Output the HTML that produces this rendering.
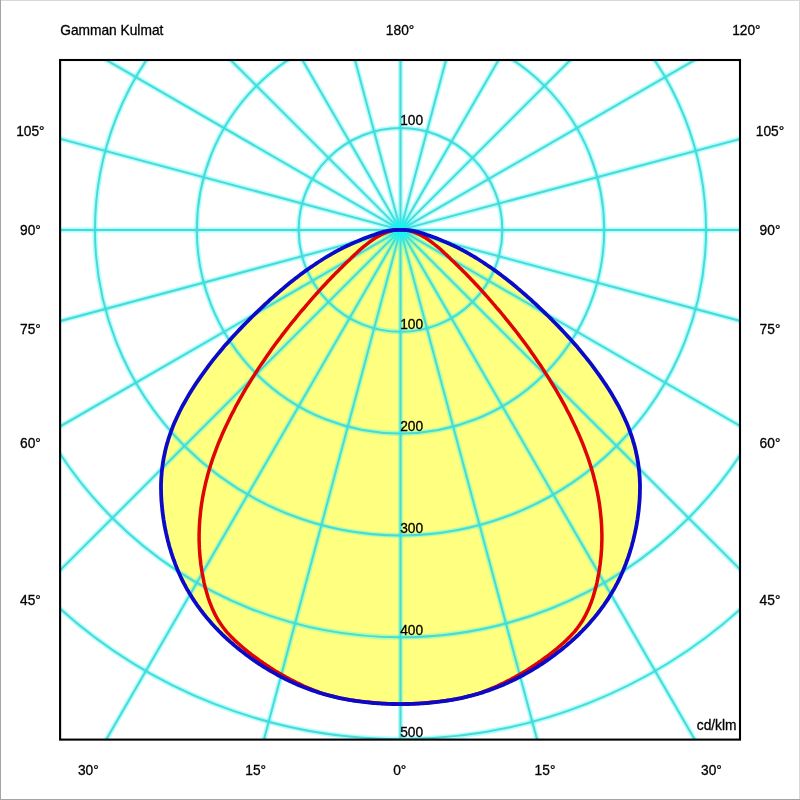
<!DOCTYPE html>
<html><head><meta charset="utf-8"><style>
html,body{margin:0;padding:0;background:#fff;}
body{width:800px;height:800px;position:relative;overflow:hidden;}
svg{position:absolute;left:0;top:0;}
text{font-family:"Liberation Sans",Arial,sans-serif;font-size:13.75px;fill:#000;stroke:#000;stroke-width:0.3px;}
</style></head><body>
<svg width="800" height="800" viewBox="0 0 800 800">
<defs><clipPath id="fr"><rect x="60" y="60" width="680" height="680"/></clipPath></defs>
<g clip-path="url(#fr)">
<path d="M400.5,229.9 401.6,229.9 402.6,229.9 403.6,229.9 404.6,230.0 405.5,230.0 406.3,230.1 407.1,230.1 407.9,230.2 408.7,230.2 409.3,230.3 410.0,230.4 410.6,230.4 411.2,230.5 411.8,230.6 412.4,230.7 412.9,230.8 413.4,230.9 413.9,231.0 414.4,231.1 414.9,231.2 415.4,231.3 415.8,231.4 416.3,231.5 416.8,231.6 417.2,231.7 417.7,231.9 418.1,232.0 418.6,232.1 419.1,232.3 419.5,232.4 420.0,232.6 420.5,232.7 421.1,232.9 421.6,233.1 422.2,233.2 422.8,233.4 423.4,233.6 424.0,233.8 424.7,234.1 425.4,234.3 426.1,234.5 426.8,234.8 427.6,235.1 428.5,235.3 429.3,235.6 430.2,235.9 431.1,236.3 432.1,236.6 433.0,237.0 434.0,237.3 435.1,237.7 436.1,238.1 437.2,238.5 438.3,239.0 439.4,239.4 440.6,239.9 441.7,240.4 442.9,240.9 444.1,241.4 445.4,241.9 446.6,242.5 447.9,243.1 449.3,243.6 450.6,244.3 451.9,244.9 453.3,245.5 454.7,246.2 456.1,246.9 457.5,247.6 458.9,248.3 460.4,249.1 461.8,249.8 463.3,250.6 464.8,251.4 466.3,252.2 467.8,253.1 469.3,253.9 470.8,254.8 472.3,255.7 473.9,256.6 475.4,257.5 477.0,258.5 478.6,259.5 480.1,260.5 481.7,261.5 483.3,262.5 484.9,263.6 486.5,264.7 488.1,265.8 489.8,266.9 491.4,268.0 493.1,269.2 494.8,270.4 496.5,271.6 498.2,272.9 499.9,274.1 501.6,275.4 503.3,276.8 505.1,278.1 506.9,279.5 508.6,280.9 510.5,282.3 512.3,283.8 514.1,285.3 516.0,286.8 517.8,288.4 519.7,290.0 521.6,291.6 523.5,293.3 525.5,295.0 527.4,296.7 529.4,298.4 531.4,300.2 533.4,302.1 535.5,303.9 537.5,305.8 539.6,307.8 541.7,309.8 543.8,311.8 545.9,313.9 548.1,316.0 550.3,318.1 552.4,320.3 554.6,322.5 556.9,324.8 559.1,327.1 561.3,329.4 563.5,331.8 565.8,334.2 568.0,336.6 570.2,339.1 572.4,341.6 574.7,344.1 576.9,346.6 579.1,349.2 581.2,351.8 583.4,354.4 585.6,357.1 587.7,359.7 589.8,362.4 591.9,365.1 593.9,367.9 595.9,370.6 597.9,373.3 599.9,376.1 601.8,378.9 603.7,381.7 605.6,384.4 607.4,387.2 609.2,390.0 610.9,392.8 612.6,395.6 614.2,398.4 615.8,401.2 617.4,404.0 618.9,406.7 620.3,409.5 621.7,412.2 623.0,415.0 624.3,417.7 625.5,420.4 626.7,423.1 627.8,425.7 628.8,428.4 629.8,431.0 630.7,433.6 631.6,436.2 632.5,438.8 633.2,441.3 634.0,443.8 634.7,446.4 635.3,448.9 635.9,451.3 636.4,453.8 636.9,456.2 637.4,458.7 637.8,461.1 638.2,463.5 638.5,465.9 638.8,468.2 639.1,470.6 639.3,472.9 639.5,475.3 639.7,477.6 639.8,479.9 639.9,482.2 640.0,484.4 640.0,486.7 640.0,489.0 639.9,491.2 639.9,493.4 639.8,495.7 639.7,497.9 639.6,500.1 639.4,502.3 639.2,504.5 639.0,506.7 638.8,508.9 638.6,511.1 638.3,513.3 638.0,515.5 637.7,517.7 637.4,519.8 637.0,522.0 636.7,524.2 636.3,526.3 635.9,528.5 635.4,530.6 635.0,532.7 634.5,534.9 634.0,537.0 633.5,539.1 633.0,541.2 632.4,543.3 631.9,545.4 631.3,547.5 630.6,549.6 630.0,551.7 629.4,553.7 628.7,555.8 628.0,557.8 627.3,559.8 626.5,561.9 625.8,563.9 625.0,565.9 624.2,567.9 623.4,569.9 622.6,571.8 621.7,573.8 620.8,575.7 619.9,577.7 619.0,579.6 618.1,581.5 617.1,583.4 616.1,585.2 615.1,587.1 614.1,588.9 613.0,590.7 612.0,592.5 610.9,594.3 609.8,596.1 608.7,597.9 607.6,599.6 606.4,601.4 605.2,603.1 604.1,604.8 602.9,606.5 601.6,608.2 600.4,609.8 599.1,611.5 597.9,613.1 596.6,614.8 595.3,616.4 594.0,618.0 592.6,619.5 591.3,621.1 589.9,622.7 588.6,624.2 587.2,625.7 585.8,627.2 584.4,628.7 582.9,630.2 581.5,631.7 580.0,633.1 578.6,634.6 577.1,636.0 575.6,637.4 574.1,638.8 572.5,640.2 571.0,641.6 569.5,642.9 567.9,644.3 566.4,645.6 564.8,646.9 563.2,648.2 561.6,649.5 560.0,650.8 558.3,652.1 556.7,653.3 555.1,654.6 553.4,655.8 551.8,657.0 550.1,658.2 548.4,659.4 546.7,660.6 545.0,661.8 543.3,662.9 541.6,664.1 539.8,665.2 538.1,666.3 536.4,667.4 534.6,668.5 532.8,669.6 531.1,670.6 529.3,671.7 527.5,672.7 525.7,673.7 523.9,674.7 522.0,675.7 520.2,676.7 518.4,677.6 516.5,678.6 514.7,679.5 512.8,680.4 511.0,681.3 509.1,682.1 507.2,683.0 505.3,683.8 503.4,684.7 501.5,685.5 499.6,686.3 497.7,687.0 495.7,687.8 493.8,688.5 491.9,689.2 489.9,689.9 488.0,690.6 486.0,691.3 484.0,691.9 482.1,692.6 480.1,693.2 478.1,693.8 476.1,694.3 474.1,694.9 472.2,695.4 470.1,695.9 468.1,696.4 466.1,696.9 464.1,697.4 462.1,697.8 460.1,698.3 458.1,698.7 456.0,699.1 454.0,699.5 452.0,699.8 449.9,700.2 447.9,700.5 445.8,700.8 443.8,701.1 441.8,701.4 439.7,701.7 437.7,701.9 435.6,702.2 433.5,702.4 431.5,702.6 429.4,702.8 427.4,703.0 425.3,703.1 423.2,703.3 421.2,703.4 419.1,703.6 417.0,703.7 415.0,703.8 412.9,703.8 410.8,703.9 408.8,704.0 406.7,704.0 404.6,704.0 402.6,704.1 400.5,704.1 398.4,704.1 396.4,704.0 394.3,704.0 392.2,704.0 390.2,703.9 388.1,703.8 386.0,703.8 384.0,703.7 381.9,703.6 379.8,703.4 377.8,703.3 375.7,703.1 373.6,703.0 371.6,702.8 369.5,702.6 367.5,702.4 365.4,702.2 363.3,701.9 361.3,701.7 359.2,701.4 357.2,701.1 355.2,700.8 353.1,700.5 351.1,700.2 349.0,699.8 347.0,699.5 345.0,699.1 342.9,698.7 340.9,698.3 338.9,697.8 336.9,697.4 334.9,696.9 332.9,696.4 330.9,695.9 328.8,695.4 326.9,694.9 324.9,694.3 322.9,693.8 320.9,693.2 318.9,692.6 317.0,691.9 315.0,691.3 313.0,690.6 311.1,689.9 309.1,689.2 307.2,688.5 305.3,687.8 303.3,687.0 301.4,686.3 299.5,685.5 297.6,684.7 295.7,683.8 293.8,683.0 291.9,682.1 290.0,681.3 288.2,680.4 286.3,679.5 284.5,678.6 282.6,677.6 280.8,676.7 279.0,675.7 277.1,674.7 275.3,673.7 273.5,672.7 271.7,671.7 269.9,670.6 268.2,669.6 266.4,668.5 264.6,667.4 262.9,666.3 261.2,665.2 259.4,664.1 257.7,662.9 256.0,661.8 254.3,660.6 252.6,659.4 250.9,658.2 249.2,657.0 247.6,655.8 245.9,654.6 244.3,653.3 242.7,652.1 241.0,650.8 239.4,649.5 237.8,648.2 236.2,646.9 234.6,645.6 233.1,644.3 231.5,642.9 230.0,641.6 228.5,640.2 226.9,638.8 225.4,637.4 223.9,636.0 222.4,634.6 221.0,633.1 219.5,631.7 218.1,630.2 216.6,628.7 215.2,627.2 213.8,625.7 212.4,624.2 211.1,622.7 209.7,621.1 208.4,619.5 207.0,618.0 205.7,616.4 204.4,614.8 203.1,613.1 201.9,611.5 200.6,609.8 199.4,608.2 198.1,606.5 196.9,604.8 195.8,603.1 194.6,601.4 193.4,599.6 192.3,597.9 191.2,596.1 190.1,594.3 189.0,592.5 188.0,590.7 186.9,588.9 185.9,587.1 184.9,585.2 183.9,583.4 182.9,581.5 182.0,579.6 181.1,577.7 180.2,575.7 179.3,573.8 178.4,571.8 177.6,569.9 176.8,567.9 176.0,565.9 175.2,563.9 174.5,561.9 173.7,559.8 173.0,557.8 172.3,555.8 171.6,553.7 171.0,551.7 170.4,549.6 169.7,547.5 169.1,545.4 168.6,543.3 168.0,541.2 167.5,539.1 167.0,537.0 166.5,534.9 166.0,532.7 165.6,530.6 165.1,528.5 164.7,526.3 164.3,524.2 164.0,522.0 163.6,519.8 163.3,517.7 163.0,515.5 162.7,513.3 162.4,511.1 162.2,508.9 162.0,506.7 161.8,504.5 161.6,502.3 161.4,500.1 161.3,497.9 161.2,495.7 161.1,493.4 161.1,491.2 161.0,489.0 161.0,486.7 161.0,484.4 161.1,482.2 161.2,479.9 161.3,477.6 161.5,475.3 161.7,472.9 161.9,470.6 162.2,468.2 162.5,465.9 162.8,463.5 163.2,461.1 163.6,458.7 164.1,456.2 164.6,453.8 165.1,451.3 165.7,448.9 166.3,446.4 167.0,443.8 167.8,441.3 168.5,438.8 169.4,436.2 170.3,433.6 171.2,431.0 172.2,428.4 173.2,425.7 174.3,423.1 175.5,420.4 176.7,417.7 178.0,415.0 179.3,412.2 180.7,409.5 182.1,406.7 183.6,404.0 185.2,401.2 186.8,398.4 188.4,395.6 190.1,392.8 191.8,390.0 193.6,387.2 195.4,384.4 197.3,381.7 199.2,378.9 201.1,376.1 203.1,373.3 205.1,370.6 207.1,367.9 209.1,365.1 211.2,362.4 213.3,359.7 215.4,357.1 217.6,354.4 219.8,351.8 221.9,349.2 224.1,346.6 226.3,344.1 228.6,341.6 230.8,339.1 233.0,336.6 235.2,334.2 237.5,331.8 239.7,329.4 241.9,327.1 244.1,324.8 246.4,322.5 248.6,320.3 250.7,318.1 252.9,316.0 255.1,313.9 257.2,311.8 259.3,309.8 261.4,307.8 263.5,305.8 265.5,303.9 267.6,302.1 269.6,300.2 271.6,298.4 273.6,296.7 275.5,295.0 277.5,293.3 279.4,291.6 281.3,290.0 283.2,288.4 285.0,286.8 286.9,285.3 288.7,283.8 290.5,282.3 292.4,280.9 294.1,279.5 295.9,278.1 297.7,276.8 299.4,275.4 301.1,274.1 302.8,272.9 304.5,271.6 306.2,270.4 307.9,269.2 309.6,268.0 311.2,266.9 312.9,265.8 314.5,264.7 316.1,263.6 317.7,262.5 319.3,261.5 320.9,260.5 322.4,259.5 324.0,258.5 325.6,257.5 327.1,256.6 328.7,255.7 330.2,254.8 331.7,253.9 333.2,253.1 334.7,252.2 336.2,251.4 337.7,250.6 339.2,249.8 340.6,249.1 342.1,248.3 343.5,247.6 344.9,246.9 346.3,246.2 347.7,245.5 349.1,244.9 350.4,244.3 351.7,243.6 353.1,243.1 354.4,242.5 355.6,241.9 356.9,241.4 358.1,240.9 359.3,240.4 360.4,239.9 361.6,239.4 362.7,239.0 363.8,238.5 364.9,238.1 365.9,237.7 367.0,237.3 368.0,237.0 368.9,236.6 369.9,236.3 370.8,235.9 371.7,235.6 372.5,235.3 373.4,235.1 374.2,234.8 374.9,234.5 375.6,234.3 376.3,234.1 377.0,233.8 377.6,233.6 378.2,233.4 378.8,233.2 379.4,233.1 379.9,232.9 380.5,232.7 381.0,232.6 381.5,232.4 381.9,232.3 382.4,232.1 382.9,232.0 383.3,231.9 383.8,231.7 384.2,231.6 384.7,231.5 385.2,231.4 385.6,231.3 386.1,231.2 386.6,231.1 387.1,231.0 387.6,230.9 388.1,230.8 388.6,230.7 389.2,230.6 389.8,230.5 390.4,230.4 391.0,230.4 391.7,230.3 392.3,230.2 393.1,230.2 393.9,230.1 394.7,230.1 395.5,230.0 396.4,230.0 397.4,229.9 398.4,229.9 399.4,229.9 400.5,229.9 Z" fill="#ffff80" stroke="none"/>
<g fill="none" stroke="rgba(0,255,255,0.32)" stroke-width="5"><line x1="400.5" y1="229.9" x2="1400.50" y2="229.90"/><line x1="400.5" y1="229.9" x2="1366.43" y2="488.72"/><line x1="400.5" y1="229.9" x2="1266.53" y2="729.90"/><line x1="400.5" y1="229.9" x2="1107.61" y2="937.01"/><line x1="400.5" y1="229.9" x2="900.50" y2="1095.93"/><line x1="400.5" y1="229.9" x2="659.32" y2="1195.83"/><line x1="400.5" y1="229.9" x2="400.50" y2="1229.90"/><line x1="400.5" y1="229.9" x2="141.68" y2="1195.83"/><line x1="400.5" y1="229.9" x2="-99.50" y2="1095.93"/><line x1="400.5" y1="229.9" x2="-306.61" y2="937.01"/><line x1="400.5" y1="229.9" x2="-465.53" y2="729.90"/><line x1="400.5" y1="229.9" x2="-565.43" y2="488.72"/><line x1="400.5" y1="229.9" x2="-599.50" y2="229.90"/><line x1="400.5" y1="229.9" x2="-565.43" y2="-28.92"/><line x1="400.5" y1="229.9" x2="-465.53" y2="-270.10"/><line x1="400.5" y1="229.9" x2="-306.61" y2="-477.21"/><line x1="400.5" y1="229.9" x2="-99.50" y2="-636.13"/><line x1="400.5" y1="229.9" x2="141.68" y2="-736.03"/><line x1="400.5" y1="229.9" x2="400.50" y2="-770.10"/><line x1="400.5" y1="229.9" x2="659.32" y2="-736.03"/><line x1="400.5" y1="229.9" x2="900.50" y2="-636.13"/><line x1="400.5" y1="229.9" x2="1107.61" y2="-477.21"/><line x1="400.5" y1="229.9" x2="1266.53" y2="-270.10"/><line x1="400.5" y1="229.9" x2="1366.43" y2="-28.92"/><circle cx="400.5" cy="229.9" r="101.85"/><circle cx="400.5" cy="229.9" r="203.70"/><circle cx="400.5" cy="229.9" r="305.55"/><circle cx="400.5" cy="229.9" r="407.40"/><circle cx="400.5" cy="229.9" r="509.25"/></g>
<g fill="none" stroke="#4cd9d6" stroke-width="2"><line x1="400.5" y1="229.9" x2="1400.50" y2="229.90"/><line x1="400.5" y1="229.9" x2="1366.43" y2="488.72"/><line x1="400.5" y1="229.9" x2="1266.53" y2="729.90"/><line x1="400.5" y1="229.9" x2="1107.61" y2="937.01"/><line x1="400.5" y1="229.9" x2="900.50" y2="1095.93"/><line x1="400.5" y1="229.9" x2="659.32" y2="1195.83"/><line x1="400.5" y1="229.9" x2="400.50" y2="1229.90"/><line x1="400.5" y1="229.9" x2="141.68" y2="1195.83"/><line x1="400.5" y1="229.9" x2="-99.50" y2="1095.93"/><line x1="400.5" y1="229.9" x2="-306.61" y2="937.01"/><line x1="400.5" y1="229.9" x2="-465.53" y2="729.90"/><line x1="400.5" y1="229.9" x2="-565.43" y2="488.72"/><line x1="400.5" y1="229.9" x2="-599.50" y2="229.90"/><line x1="400.5" y1="229.9" x2="-565.43" y2="-28.92"/><line x1="400.5" y1="229.9" x2="-465.53" y2="-270.10"/><line x1="400.5" y1="229.9" x2="-306.61" y2="-477.21"/><line x1="400.5" y1="229.9" x2="-99.50" y2="-636.13"/><line x1="400.5" y1="229.9" x2="141.68" y2="-736.03"/><line x1="400.5" y1="229.9" x2="400.50" y2="-770.10"/><line x1="400.5" y1="229.9" x2="659.32" y2="-736.03"/><line x1="400.5" y1="229.9" x2="900.50" y2="-636.13"/><line x1="400.5" y1="229.9" x2="1107.61" y2="-477.21"/><line x1="400.5" y1="229.9" x2="1266.53" y2="-270.10"/><line x1="400.5" y1="229.9" x2="1366.43" y2="-28.92"/><circle cx="400.5" cy="229.9" r="101.85"/><circle cx="400.5" cy="229.9" r="203.70"/><circle cx="400.5" cy="229.9" r="305.55"/><circle cx="400.5" cy="229.9" r="407.40"/><circle cx="400.5" cy="229.9" r="509.25"/></g>
<defs><radialGradient id="cg"><stop offset="0" stop-color="#00ffff" stop-opacity="0.85"/><stop offset="0.6" stop-color="#00ffff" stop-opacity="0.5"/><stop offset="1" stop-color="#00ffff" stop-opacity="0"/></radialGradient></defs><circle cx="400.5" cy="229.9" r="13" fill="url(#cg)"/>
<path d="M400.5,229.9 401.1,229.9 401.7,229.9 402.3,229.9 402.9,229.9 403.5,229.9 404.2,229.9 404.8,230.0 405.4,230.0 406.0,230.1 406.6,230.2 407.2,230.3 407.8,230.4 408.4,230.5 409.0,230.6 409.6,230.8 410.2,230.9 410.9,231.1 411.5,231.3 412.1,231.5 412.7,231.7 413.3,231.9 413.9,232.1 414.5,232.3 415.1,232.5 415.7,232.8 416.3,233.0 416.9,233.3 417.5,233.6 418.2,233.9 418.8,234.2 419.4,234.5 420.0,234.8 420.6,235.1 421.2,235.4 421.8,235.7 422.4,236.1 423.0,236.4 423.6,236.8 424.2,237.2 424.9,237.5 425.5,237.9 426.1,238.3 426.7,238.7 427.3,239.1 427.9,239.5 428.5,239.9 429.1,240.4 429.7,240.8 430.3,241.2 430.9,241.7 431.6,242.1 432.2,242.6 432.8,243.1 433.4,243.5 434.0,244.0 434.6,244.5 435.2,245.0 435.8,245.5 436.4,245.9 437.0,246.3 437.5,246.8 438.0,247.2 438.5,247.6 439.1,248.1 439.6,248.5 440.1,249.0 440.6,249.4 441.2,249.9 441.7,250.4 442.2,250.9 442.8,251.4 443.3,251.9 443.9,252.4 444.4,252.9 445.0,253.5 445.6,254.0 446.2,254.6 446.8,255.2 447.5,255.8 448.1,256.4 448.8,257.1 449.5,257.8 450.2,258.5 451.0,259.2 451.7,259.9 452.5,260.7 453.3,261.4 454.2,262.3 455.0,263.1 455.9,264.0 456.8,264.9 457.8,265.8 458.7,266.7 459.7,267.7 460.8,268.7 461.8,269.8 462.9,270.9 464.0,272.0 465.1,273.1 466.3,274.3 467.5,275.5 468.7,276.8 470.0,278.1 471.3,279.5 472.6,280.8 474.0,282.3 475.3,283.7 476.8,285.3 478.2,286.8 479.7,288.4 481.2,290.1 482.8,291.8 484.3,293.5 485.9,295.3 487.6,297.2 489.3,299.1 491.0,301.1 492.7,303.1 494.5,305.1 496.3,307.3 498.2,309.5 500.1,311.7 502.0,314.0 504.0,316.4 505.9,318.8 508.0,321.3 510.0,323.8 512.1,326.5 514.2,329.1 516.3,331.8 518.5,334.6 520.6,337.5 522.8,340.4 525.0,343.3 527.2,346.3 529.4,349.3 531.5,352.4 533.7,355.5 535.9,358.7 538.1,361.9 540.3,365.1 542.5,368.4 544.6,371.7 546.8,375.1 548.9,378.4 551.0,381.8 553.1,385.3 555.2,388.7 557.2,392.2 559.2,395.7 561.2,399.2 563.1,402.7 565.1,406.2 566.9,409.8 568.8,413.3 570.6,416.9 572.3,420.4 574.0,424.0 575.7,427.5 577.3,431.1 578.9,434.6 580.4,438.2 581.9,441.7 583.3,445.2 584.6,448.7 585.9,452.1 587.2,455.6 588.4,459.0 589.5,462.4 590.6,465.7 591.6,469.1 592.6,472.4 593.5,475.7 594.3,479.0 595.2,482.3 595.9,485.5 596.6,488.7 597.3,491.9 597.9,495.1 598.5,498.2 599.0,501.3 599.5,504.4 599.9,507.5 600.3,510.6 600.6,513.6 600.9,516.6 601.2,519.6 601.4,522.6 601.6,525.5 601.7,528.5 601.8,531.4 601.9,534.2 601.9,537.1 601.9,540.0 601.8,542.8 601.7,545.6 601.6,548.4 601.4,551.1 601.2,553.9 601.0,556.6 600.7,559.3 600.4,562.0 600.1,564.7 599.7,567.3 599.3,569.9 598.9,572.6 598.4,575.2 597.9,577.7 597.4,580.3 596.9,582.8 596.3,585.3 595.7,587.8 595.0,590.3 594.3,592.7 593.6,595.1 592.9,597.5 592.1,599.8 591.3,602.1 590.4,604.4 589.5,606.6 588.6,608.8 587.6,611.0 586.6,613.1 585.6,615.1 584.5,617.1 583.4,619.1 582.3,621.0 581.1,622.8 579.9,624.6 578.7,626.3 577.4,628.0 576.1,629.7 574.8,631.3 573.4,632.9 572.0,634.4 570.6,635.9 569.2,637.4 567.7,638.8 566.3,640.2 564.8,641.6 563.3,643.0 561.8,644.3 560.3,645.7 558.7,647.0 557.2,648.3 555.6,649.6 554.1,650.8 552.5,652.1 550.9,653.3 549.3,654.6 547.7,655.8 546.1,657.0 544.4,658.2 542.8,659.4 541.2,660.6 539.5,661.7 537.9,662.9 536.2,664.0 534.5,665.2 532.8,666.3 531.1,667.4 529.4,668.5 527.7,669.6 526.0,670.7 524.2,671.7 522.5,672.8 520.7,673.8 519.0,674.8 517.2,675.8 515.4,676.8 513.6,677.7 511.8,678.7 510.0,679.7 508.2,680.6 506.4,681.5 504.6,682.5 502.8,683.4 500.9,684.2 499.1,685.1 497.3,686.0 495.4,686.8 493.5,687.6 491.7,688.4 489.8,689.2 487.9,690.0 486.0,690.7 484.1,691.4 482.2,692.1 480.3,692.8 478.4,693.5 476.4,694.1 474.5,694.7 472.5,695.3 470.6,695.8 468.6,696.3 466.7,696.8 464.7,697.2 462.7,697.7 460.8,698.1 458.8,698.5 456.8,698.9 454.8,699.2 452.8,699.6 450.8,699.9 448.8,700.2 446.8,700.5 444.8,700.8 442.8,701.0 440.8,701.3 438.8,701.5 436.8,701.7 434.8,701.9 432.8,702.1 430.8,702.3 428.8,702.5 426.8,702.7 424.7,702.9 422.7,703.1 420.7,703.2 418.7,703.4 416.7,703.5 414.7,703.6 412.6,703.7 410.6,703.8 408.6,703.8 406.6,703.9 404.5,703.9 402.5,703.9 400.5,703.9 398.5,703.9 396.5,703.9 394.4,703.9 392.4,703.8 390.4,703.8 388.4,703.7 386.3,703.6 384.3,703.5 382.3,703.4 380.3,703.2 378.3,703.1 376.3,702.9 374.2,702.7 372.2,702.5 370.2,702.3 368.2,702.1 366.2,701.9 364.2,701.7 362.2,701.5 360.2,701.3 358.2,701.0 356.2,700.8 354.2,700.5 352.2,700.2 350.2,699.9 348.2,699.6 346.2,699.2 344.2,698.9 342.2,698.5 340.2,698.1 338.3,697.7 336.3,697.2 334.3,696.8 332.4,696.3 330.4,695.8 328.5,695.3 326.5,694.7 324.6,694.1 322.6,693.5 320.7,692.8 318.8,692.1 316.9,691.4 315.0,690.7 313.1,690.0 311.2,689.2 309.3,688.4 307.5,687.6 305.6,686.8 303.7,686.0 301.9,685.1 300.1,684.2 298.2,683.4 296.4,682.5 294.6,681.5 292.8,680.6 291.0,679.7 289.2,678.7 287.4,677.7 285.6,676.8 283.8,675.8 282.0,674.8 280.3,673.8 278.5,672.8 276.8,671.7 275.0,670.7 273.3,669.6 271.6,668.5 269.9,667.4 268.2,666.3 266.5,665.2 264.8,664.0 263.1,662.9 261.5,661.7 259.8,660.6 258.2,659.4 256.6,658.2 254.9,657.0 253.3,655.8 251.7,654.6 250.1,653.3 248.5,652.1 246.9,650.8 245.4,649.6 243.8,648.3 242.3,647.0 240.7,645.7 239.2,644.3 237.7,643.0 236.2,641.6 234.7,640.2 233.3,638.8 231.8,637.4 230.4,635.9 229.0,634.4 227.6,632.9 226.2,631.3 224.9,629.7 223.6,628.0 222.3,626.3 221.1,624.6 219.9,622.8 218.7,621.0 217.6,619.1 216.5,617.1 215.4,615.1 214.4,613.1 213.4,611.0 212.4,608.8 211.5,606.6 210.6,604.4 209.7,602.1 208.9,599.8 208.1,597.5 207.4,595.1 206.7,592.7 206.0,590.3 205.3,587.8 204.7,585.3 204.1,582.8 203.6,580.3 203.1,577.7 202.6,575.2 202.1,572.6 201.7,569.9 201.3,567.3 200.9,564.7 200.6,562.0 200.3,559.3 200.0,556.6 199.8,553.9 199.6,551.1 199.4,548.4 199.3,545.6 199.2,542.8 199.1,540.0 199.1,537.1 199.1,534.2 199.2,531.4 199.3,528.5 199.4,525.5 199.6,522.6 199.8,519.6 200.1,516.6 200.4,513.6 200.7,510.6 201.1,507.5 201.5,504.4 202.0,501.3 202.5,498.2 203.1,495.1 203.7,491.9 204.4,488.7 205.1,485.5 205.8,482.3 206.7,479.0 207.5,475.7 208.4,472.4 209.4,469.1 210.4,465.7 211.5,462.4 212.6,459.0 213.8,455.6 215.1,452.1 216.4,448.7 217.7,445.2 219.1,441.7 220.6,438.2 222.1,434.6 223.7,431.1 225.3,427.5 227.0,424.0 228.7,420.4 230.4,416.9 232.2,413.3 234.1,409.8 235.9,406.2 237.9,402.7 239.8,399.2 241.8,395.7 243.8,392.2 245.8,388.7 247.9,385.3 250.0,381.8 252.1,378.4 254.2,375.1 256.4,371.7 258.5,368.4 260.7,365.1 262.9,361.9 265.1,358.7 267.3,355.5 269.5,352.4 271.6,349.3 273.8,346.3 276.0,343.3 278.2,340.4 280.4,337.5 282.5,334.6 284.7,331.8 286.8,329.1 288.9,326.5 291.0,323.8 293.0,321.3 295.1,318.8 297.0,316.4 299.0,314.0 300.9,311.7 302.8,309.5 304.7,307.3 306.5,305.1 308.3,303.1 310.0,301.1 311.7,299.1 313.4,297.2 315.1,295.3 316.7,293.5 318.2,291.8 319.8,290.1 321.3,288.4 322.8,286.8 324.2,285.3 325.7,283.7 327.0,282.3 328.4,280.8 329.7,279.5 331.0,278.1 332.3,276.8 333.5,275.5 334.7,274.3 335.9,273.1 337.0,272.0 338.1,270.9 339.2,269.8 340.2,268.7 341.3,267.7 342.3,266.7 343.2,265.8 344.2,264.9 345.1,264.0 346.0,263.1 346.8,262.3 347.7,261.4 348.5,260.7 349.3,259.9 350.0,259.2 350.8,258.5 351.5,257.8 352.2,257.1 352.9,256.4 353.5,255.8 354.2,255.2 354.8,254.6 355.4,254.0 356.0,253.5 356.6,252.9 357.1,252.4 357.7,251.9 358.2,251.4 358.8,250.9 359.3,250.4 359.8,249.9 360.4,249.4 360.9,249.0 361.4,248.5 361.9,248.1 362.5,247.6 363.0,247.2 363.5,246.8 364.0,246.3 364.6,245.9 365.2,245.5 365.8,245.0 366.4,244.5 367.0,244.0 367.6,243.5 368.2,243.1 368.8,242.6 369.4,242.1 370.1,241.7 370.7,241.2 371.3,240.8 371.9,240.4 372.5,239.9 373.1,239.5 373.7,239.1 374.3,238.7 374.9,238.3 375.5,237.9 376.1,237.5 376.8,237.2 377.4,236.8 378.0,236.4 378.6,236.1 379.2,235.7 379.8,235.4 380.4,235.1 381.0,234.8 381.6,234.5 382.2,234.2 382.8,233.9 383.5,233.6 384.1,233.3 384.7,233.0 385.3,232.8 385.9,232.5 386.5,232.3 387.1,232.1 387.7,231.9 388.3,231.7 388.9,231.5 389.5,231.3 390.1,231.1 390.8,230.9 391.4,230.8 392.0,230.6 392.6,230.5 393.2,230.4 393.8,230.3 394.4,230.2 395.0,230.1 395.6,230.0 396.2,230.0 396.8,229.9 397.5,229.9 398.1,229.9 398.7,229.9 399.3,229.9 399.9,229.9 400.5,229.9" fill="none" stroke="#e00400" stroke-width="3.5" stroke-linejoin="round"/>
<path d="M400.5,229.9 401.6,229.9 402.6,229.9 403.6,229.9 404.6,230.0 405.5,230.0 406.3,230.1 407.1,230.1 407.9,230.2 408.7,230.2 409.3,230.3 410.0,230.4 410.6,230.4 411.2,230.5 411.8,230.6 412.4,230.7 412.9,230.8 413.4,230.9 413.9,231.0 414.4,231.1 414.9,231.2 415.4,231.3 415.8,231.4 416.3,231.5 416.8,231.6 417.2,231.7 417.7,231.9 418.1,232.0 418.6,232.1 419.1,232.3 419.5,232.4 420.0,232.6 420.5,232.7 421.1,232.9 421.6,233.1 422.2,233.2 422.8,233.4 423.4,233.6 424.0,233.8 424.7,234.1 425.4,234.3 426.1,234.5 426.8,234.8 427.6,235.1 428.5,235.3 429.3,235.6 430.2,235.9 431.1,236.3 432.1,236.6 433.0,237.0 434.0,237.3 435.1,237.7 436.1,238.1 437.2,238.5 438.3,239.0 439.4,239.4 440.6,239.9 441.7,240.4 442.9,240.9 444.1,241.4 445.4,241.9 446.6,242.5 447.9,243.1 449.3,243.6 450.6,244.3 451.9,244.9 453.3,245.5 454.7,246.2 456.1,246.9 457.5,247.6 458.9,248.3 460.4,249.1 461.8,249.8 463.3,250.6 464.8,251.4 466.3,252.2 467.8,253.1 469.3,253.9 470.8,254.8 472.3,255.7 473.9,256.6 475.4,257.5 477.0,258.5 478.6,259.5 480.1,260.5 481.7,261.5 483.3,262.5 484.9,263.6 486.5,264.7 488.1,265.8 489.8,266.9 491.4,268.0 493.1,269.2 494.8,270.4 496.5,271.6 498.2,272.9 499.9,274.1 501.6,275.4 503.3,276.8 505.1,278.1 506.9,279.5 508.6,280.9 510.5,282.3 512.3,283.8 514.1,285.3 516.0,286.8 517.8,288.4 519.7,290.0 521.6,291.6 523.5,293.3 525.5,295.0 527.4,296.7 529.4,298.4 531.4,300.2 533.4,302.1 535.5,303.9 537.5,305.8 539.6,307.8 541.7,309.8 543.8,311.8 545.9,313.9 548.1,316.0 550.3,318.1 552.4,320.3 554.6,322.5 556.9,324.8 559.1,327.1 561.3,329.4 563.5,331.8 565.8,334.2 568.0,336.6 570.2,339.1 572.4,341.6 574.7,344.1 576.9,346.6 579.1,349.2 581.2,351.8 583.4,354.4 585.6,357.1 587.7,359.7 589.8,362.4 591.9,365.1 593.9,367.9 595.9,370.6 597.9,373.3 599.9,376.1 601.8,378.9 603.7,381.7 605.6,384.4 607.4,387.2 609.2,390.0 610.9,392.8 612.6,395.6 614.2,398.4 615.8,401.2 617.4,404.0 618.9,406.7 620.3,409.5 621.7,412.2 623.0,415.0 624.3,417.7 625.5,420.4 626.7,423.1 627.8,425.7 628.8,428.4 629.8,431.0 630.7,433.6 631.6,436.2 632.5,438.8 633.2,441.3 634.0,443.8 634.7,446.4 635.3,448.9 635.9,451.3 636.4,453.8 636.9,456.2 637.4,458.7 637.8,461.1 638.2,463.5 638.5,465.9 638.8,468.2 639.1,470.6 639.3,472.9 639.5,475.3 639.7,477.6 639.8,479.9 639.9,482.2 640.0,484.4 640.0,486.7 640.0,489.0 639.9,491.2 639.9,493.4 639.8,495.7 639.7,497.9 639.6,500.1 639.4,502.3 639.2,504.5 639.0,506.7 638.8,508.9 638.6,511.1 638.3,513.3 638.0,515.5 637.7,517.7 637.4,519.8 637.0,522.0 636.7,524.2 636.3,526.3 635.9,528.5 635.4,530.6 635.0,532.7 634.5,534.9 634.0,537.0 633.5,539.1 633.0,541.2 632.4,543.3 631.9,545.4 631.3,547.5 630.6,549.6 630.0,551.7 629.4,553.7 628.7,555.8 628.0,557.8 627.3,559.8 626.5,561.9 625.8,563.9 625.0,565.9 624.2,567.9 623.4,569.9 622.6,571.8 621.7,573.8 620.8,575.7 619.9,577.7 619.0,579.6 618.1,581.5 617.1,583.4 616.1,585.2 615.1,587.1 614.1,588.9 613.0,590.7 612.0,592.5 610.9,594.3 609.8,596.1 608.7,597.9 607.6,599.6 606.4,601.4 605.2,603.1 604.1,604.8 602.9,606.5 601.6,608.2 600.4,609.8 599.1,611.5 597.9,613.1 596.6,614.8 595.3,616.4 594.0,618.0 592.6,619.5 591.3,621.1 589.9,622.7 588.6,624.2 587.2,625.7 585.8,627.2 584.4,628.7 582.9,630.2 581.5,631.7 580.0,633.1 578.6,634.6 577.1,636.0 575.6,637.4 574.1,638.8 572.5,640.2 571.0,641.6 569.5,642.9 567.9,644.3 566.4,645.6 564.8,646.9 563.2,648.2 561.6,649.5 560.0,650.8 558.3,652.1 556.7,653.3 555.1,654.6 553.4,655.8 551.8,657.0 550.1,658.2 548.4,659.4 546.7,660.6 545.0,661.8 543.3,662.9 541.6,664.1 539.8,665.2 538.1,666.3 536.4,667.4 534.6,668.5 532.8,669.6 531.1,670.6 529.3,671.7 527.5,672.7 525.7,673.7 523.9,674.7 522.0,675.7 520.2,676.7 518.4,677.6 516.5,678.6 514.7,679.5 512.8,680.4 511.0,681.3 509.1,682.1 507.2,683.0 505.3,683.8 503.4,684.7 501.5,685.5 499.6,686.3 497.7,687.0 495.7,687.8 493.8,688.5 491.9,689.2 489.9,689.9 488.0,690.6 486.0,691.3 484.0,691.9 482.1,692.6 480.1,693.2 478.1,693.8 476.1,694.3 474.1,694.9 472.2,695.4 470.1,695.9 468.1,696.4 466.1,696.9 464.1,697.4 462.1,697.8 460.1,698.3 458.1,698.7 456.0,699.1 454.0,699.5 452.0,699.8 449.9,700.2 447.9,700.5 445.8,700.8 443.8,701.1 441.8,701.4 439.7,701.7 437.7,701.9 435.6,702.2 433.5,702.4 431.5,702.6 429.4,702.8 427.4,703.0 425.3,703.1 423.2,703.3 421.2,703.4 419.1,703.6 417.0,703.7 415.0,703.8 412.9,703.8 410.8,703.9 408.8,704.0 406.7,704.0 404.6,704.0 402.6,704.1 400.5,704.1 398.4,704.1 396.4,704.0 394.3,704.0 392.2,704.0 390.2,703.9 388.1,703.8 386.0,703.8 384.0,703.7 381.9,703.6 379.8,703.4 377.8,703.3 375.7,703.1 373.6,703.0 371.6,702.8 369.5,702.6 367.5,702.4 365.4,702.2 363.3,701.9 361.3,701.7 359.2,701.4 357.2,701.1 355.2,700.8 353.1,700.5 351.1,700.2 349.0,699.8 347.0,699.5 345.0,699.1 342.9,698.7 340.9,698.3 338.9,697.8 336.9,697.4 334.9,696.9 332.9,696.4 330.9,695.9 328.8,695.4 326.9,694.9 324.9,694.3 322.9,693.8 320.9,693.2 318.9,692.6 317.0,691.9 315.0,691.3 313.0,690.6 311.1,689.9 309.1,689.2 307.2,688.5 305.3,687.8 303.3,687.0 301.4,686.3 299.5,685.5 297.6,684.7 295.7,683.8 293.8,683.0 291.9,682.1 290.0,681.3 288.2,680.4 286.3,679.5 284.5,678.6 282.6,677.6 280.8,676.7 279.0,675.7 277.1,674.7 275.3,673.7 273.5,672.7 271.7,671.7 269.9,670.6 268.2,669.6 266.4,668.5 264.6,667.4 262.9,666.3 261.2,665.2 259.4,664.1 257.7,662.9 256.0,661.8 254.3,660.6 252.6,659.4 250.9,658.2 249.2,657.0 247.6,655.8 245.9,654.6 244.3,653.3 242.7,652.1 241.0,650.8 239.4,649.5 237.8,648.2 236.2,646.9 234.6,645.6 233.1,644.3 231.5,642.9 230.0,641.6 228.5,640.2 226.9,638.8 225.4,637.4 223.9,636.0 222.4,634.6 221.0,633.1 219.5,631.7 218.1,630.2 216.6,628.7 215.2,627.2 213.8,625.7 212.4,624.2 211.1,622.7 209.7,621.1 208.4,619.5 207.0,618.0 205.7,616.4 204.4,614.8 203.1,613.1 201.9,611.5 200.6,609.8 199.4,608.2 198.1,606.5 196.9,604.8 195.8,603.1 194.6,601.4 193.4,599.6 192.3,597.9 191.2,596.1 190.1,594.3 189.0,592.5 188.0,590.7 186.9,588.9 185.9,587.1 184.9,585.2 183.9,583.4 182.9,581.5 182.0,579.6 181.1,577.7 180.2,575.7 179.3,573.8 178.4,571.8 177.6,569.9 176.8,567.9 176.0,565.9 175.2,563.9 174.5,561.9 173.7,559.8 173.0,557.8 172.3,555.8 171.6,553.7 171.0,551.7 170.4,549.6 169.7,547.5 169.1,545.4 168.6,543.3 168.0,541.2 167.5,539.1 167.0,537.0 166.5,534.9 166.0,532.7 165.6,530.6 165.1,528.5 164.7,526.3 164.3,524.2 164.0,522.0 163.6,519.8 163.3,517.7 163.0,515.5 162.7,513.3 162.4,511.1 162.2,508.9 162.0,506.7 161.8,504.5 161.6,502.3 161.4,500.1 161.3,497.9 161.2,495.7 161.1,493.4 161.1,491.2 161.0,489.0 161.0,486.7 161.0,484.4 161.1,482.2 161.2,479.9 161.3,477.6 161.5,475.3 161.7,472.9 161.9,470.6 162.2,468.2 162.5,465.9 162.8,463.5 163.2,461.1 163.6,458.7 164.1,456.2 164.6,453.8 165.1,451.3 165.7,448.9 166.3,446.4 167.0,443.8 167.8,441.3 168.5,438.8 169.4,436.2 170.3,433.6 171.2,431.0 172.2,428.4 173.2,425.7 174.3,423.1 175.5,420.4 176.7,417.7 178.0,415.0 179.3,412.2 180.7,409.5 182.1,406.7 183.6,404.0 185.2,401.2 186.8,398.4 188.4,395.6 190.1,392.8 191.8,390.0 193.6,387.2 195.4,384.4 197.3,381.7 199.2,378.9 201.1,376.1 203.1,373.3 205.1,370.6 207.1,367.9 209.1,365.1 211.2,362.4 213.3,359.7 215.4,357.1 217.6,354.4 219.8,351.8 221.9,349.2 224.1,346.6 226.3,344.1 228.6,341.6 230.8,339.1 233.0,336.6 235.2,334.2 237.5,331.8 239.7,329.4 241.9,327.1 244.1,324.8 246.4,322.5 248.6,320.3 250.7,318.1 252.9,316.0 255.1,313.9 257.2,311.8 259.3,309.8 261.4,307.8 263.5,305.8 265.5,303.9 267.6,302.1 269.6,300.2 271.6,298.4 273.6,296.7 275.5,295.0 277.5,293.3 279.4,291.6 281.3,290.0 283.2,288.4 285.0,286.8 286.9,285.3 288.7,283.8 290.5,282.3 292.4,280.9 294.1,279.5 295.9,278.1 297.7,276.8 299.4,275.4 301.1,274.1 302.8,272.9 304.5,271.6 306.2,270.4 307.9,269.2 309.6,268.0 311.2,266.9 312.9,265.8 314.5,264.7 316.1,263.6 317.7,262.5 319.3,261.5 320.9,260.5 322.4,259.5 324.0,258.5 325.6,257.5 327.1,256.6 328.7,255.7 330.2,254.8 331.7,253.9 333.2,253.1 334.7,252.2 336.2,251.4 337.7,250.6 339.2,249.8 340.6,249.1 342.1,248.3 343.5,247.6 344.9,246.9 346.3,246.2 347.7,245.5 349.1,244.9 350.4,244.3 351.7,243.6 353.1,243.1 354.4,242.5 355.6,241.9 356.9,241.4 358.1,240.9 359.3,240.4 360.4,239.9 361.6,239.4 362.7,239.0 363.8,238.5 364.9,238.1 365.9,237.7 367.0,237.3 368.0,237.0 368.9,236.6 369.9,236.3 370.8,235.9 371.7,235.6 372.5,235.3 373.4,235.1 374.2,234.8 374.9,234.5 375.6,234.3 376.3,234.1 377.0,233.8 377.6,233.6 378.2,233.4 378.8,233.2 379.4,233.1 379.9,232.9 380.5,232.7 381.0,232.6 381.5,232.4 381.9,232.3 382.4,232.1 382.9,232.0 383.3,231.9 383.8,231.7 384.2,231.6 384.7,231.5 385.2,231.4 385.6,231.3 386.1,231.2 386.6,231.1 387.1,231.0 387.6,230.9 388.1,230.8 388.6,230.7 389.2,230.6 389.8,230.5 390.4,230.4 391.0,230.4 391.7,230.3 392.3,230.2 393.1,230.2 393.9,230.1 394.7,230.1 395.5,230.0 396.4,230.0 397.4,229.9 398.4,229.9 399.4,229.9 400.5,229.9" fill="none" stroke="#0a0ac8" stroke-width="3.8" stroke-linejoin="round"/>
</g>
<rect x="60.1" y="60" width="679.9" height="679.6" fill="none" stroke="#000" stroke-width="2.1"/>
<g style="filter:grayscale(1)"><text x="60.2" y="34.6" text-anchor="start">Gamman Kulmat</text><text x="400.1" y="35.0" text-anchor="middle">180°</text><text x="746.4" y="35.0" text-anchor="middle">120°</text><text x="30.4" y="135.6" text-anchor="middle">105°</text><text x="770" y="135.6" text-anchor="middle">105°</text><text x="30.4" y="234.7" text-anchor="middle">90°</text><text x="770" y="234.7" text-anchor="middle">90°</text><text x="30.4" y="333.7" text-anchor="middle">75°</text><text x="770" y="333.7" text-anchor="middle">75°</text><text x="30.4" y="448.4" text-anchor="middle">60°</text><text x="770" y="448.4" text-anchor="middle">60°</text><text x="30.4" y="604.7" text-anchor="middle">45°</text><text x="770" y="604.7" text-anchor="middle">45°</text><text x="88.3" y="774.8" text-anchor="middle">30°</text><text x="255.7" y="774.8" text-anchor="middle">15°</text><text x="399.8" y="774.8" text-anchor="middle">0°</text><text x="545" y="774.8" text-anchor="middle">15°</text><text x="711.4" y="774.8" text-anchor="middle">30°</text><text x="736.5" y="729.9" text-anchor="end">cd/klm</text><text x="400.2" y="125.1" text-anchor="start">100</text><text x="400.2" y="329.3" text-anchor="start">100</text><text x="400.2" y="431.0" text-anchor="start">200</text><text x="400.2" y="532.9" text-anchor="start">300</text><text x="400.2" y="634.75" text-anchor="start">400</text><text x="400.2" y="736.75" text-anchor="start">500</text></g>
<rect x="0" y="0" width="800" height="1" fill="#d8d8d8"/><rect x="799" y="0" width="1" height="800" fill="#d8d8d8"/><rect x="0" y="0" width="1" height="800" fill="#a4a4a4"/><rect x="0" y="799" width="800" height="1" fill="#a4a4a4"/>
</svg>
</body></html>
